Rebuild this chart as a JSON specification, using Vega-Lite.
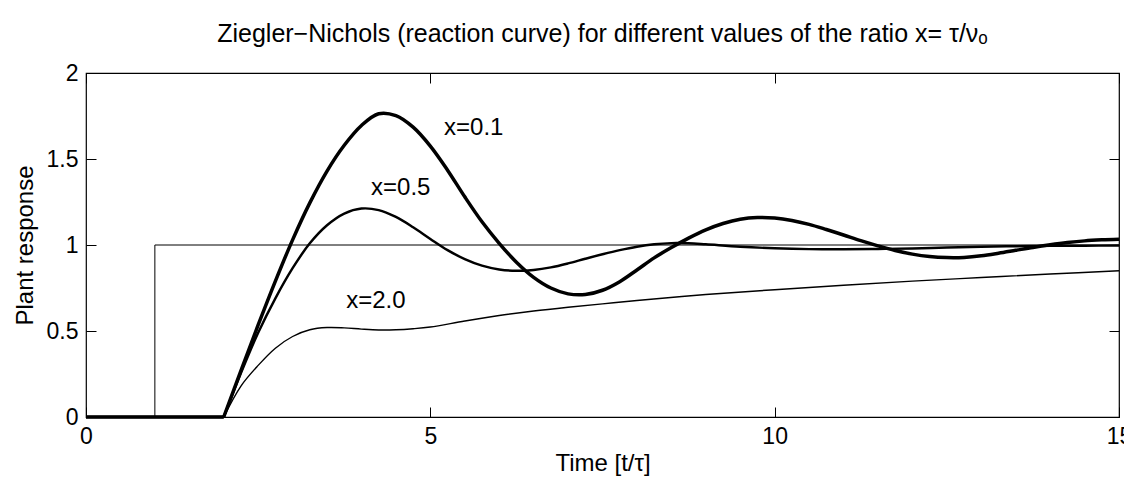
{
  "$schema": "https://vega.github.io/schema/vega-lite/v6.json",
  "width": 1033,
  "height": 344,
  "autosize": {"type": "none"},
  "padding": {"left": 86, "top": 73, "right": 5, "bottom": 62},
  "background": "#ffffff",
  "title": {
    "text": "Ziegler−Nichols (reaction curve) for different values of the ratio x= τ/νₒ",
    "font": "Liberation Sans",
    "fontSize": 25,
    "fontWeight": "normal",
    "color": "#000000",
    "baseline": "alphabetic",
    "offset": -5,
    "anchor": "middle"
  },
  "config": {
    "view": {"stroke": "#000000", "strokeWidth": 1.2},
    "font": "Liberation Sans",
    "axis": {
      "grid": false,
      "domain": false,
      "tickColor": "#000000",
      "tickSize": -10,
      "tickWidth": 1,
      "labelFlush": false,
      "format": "~g",
      "labelFont": "Liberation Sans",
      "labelFontSize": 23,
      "labelColor": "#000000",
      "titleFont": "Liberation Sans",
      "titleFontSize": 24,
      "titleFontWeight": "normal",
      "titleColor": "#000000"
    }
  },
  "datasets": {
    "curves": [
      {"t": 0, "y": 0, "s": "x=0.1", "part": "flat"}, {"t": 2, "y": 0, "s": "x=0.1", "part": "flat"},
      {"t": 2, "y": 0, "s": "x=0.1", "part": "rise"},
      {"t": 2.25, "y": 0.27, "s": "x=0.1", "part": "rise"}, {"t": 2.5, "y": 0.535, "s": "x=0.1", "part": "rise"},
      {"t": 2.75, "y": 0.79, "s": "x=0.1", "part": "rise"}, {"t": 3.0, "y": 1.03, "s": "x=0.1", "part": "rise"},
      {"t": 3.25, "y": 1.245, "s": "x=0.1", "part": "rise"}, {"t": 3.5, "y": 1.43, "s": "x=0.1", "part": "rise"},
      {"t": 3.75, "y": 1.58, "s": "x=0.1", "part": "rise"}, {"t": 4.0, "y": 1.695, "s": "x=0.1", "part": "rise"},
      {"t": 4.25, "y": 1.763, "s": "x=0.1", "part": "rise"}, {"t": 4.5, "y": 1.752, "s": "x=0.1", "part": "rise"},
      {"t": 4.75, "y": 1.685, "s": "x=0.1", "part": "rise"}, {"t": 5.0, "y": 1.575, "s": "x=0.1", "part": "rise"},
      {"t": 5.25, "y": 1.435, "s": "x=0.1", "part": "rise"}, {"t": 5.5, "y": 1.28, "s": "x=0.1", "part": "rise"},
      {"t": 5.75, "y": 1.135, "s": "x=0.1", "part": "rise"}, {"t": 6.0, "y": 1.01, "s": "x=0.1", "part": "rise"},
      {"t": 6.25, "y": 0.9, "s": "x=0.1", "part": "rise"}, {"t": 6.5, "y": 0.812, "s": "x=0.1", "part": "rise"},
      {"t": 6.75, "y": 0.75, "s": "x=0.1", "part": "rise"}, {"t": 7.0, "y": 0.716, "s": "x=0.1", "part": "rise"},
      {"t": 7.25, "y": 0.712, "s": "x=0.1", "part": "rise"}, {"t": 7.5, "y": 0.737, "s": "x=0.1", "part": "rise"},
      {"t": 7.75, "y": 0.787, "s": "x=0.1", "part": "rise"}, {"t": 8.0, "y": 0.855, "s": "x=0.1", "part": "rise"},
      {"t": 8.25, "y": 0.925, "s": "x=0.1", "part": "rise"}, {"t": 8.5, "y": 0.985, "s": "x=0.1", "part": "rise"},
      {"t": 8.75, "y": 1.04, "s": "x=0.1", "part": "rise"}, {"t": 9.0, "y": 1.088, "s": "x=0.1", "part": "rise"},
      {"t": 9.25, "y": 1.125, "s": "x=0.1", "part": "rise"}, {"t": 9.5, "y": 1.15, "s": "x=0.1", "part": "rise"},
      {"t": 9.75, "y": 1.16, "s": "x=0.1", "part": "rise"}, {"t": 10.0, "y": 1.157, "s": "x=0.1", "part": "rise"},
      {"t": 10.25, "y": 1.143, "s": "x=0.1", "part": "rise"}, {"t": 10.5, "y": 1.12, "s": "x=0.1", "part": "rise"},
      {"t": 10.75, "y": 1.09, "s": "x=0.1", "part": "rise"}, {"t": 11.0, "y": 1.058, "s": "x=0.1", "part": "rise"},
      {"t": 11.25, "y": 1.025, "s": "x=0.1", "part": "rise"}, {"t": 11.5, "y": 0.995, "s": "x=0.1", "part": "rise"},
      {"t": 11.75, "y": 0.968, "s": "x=0.1", "part": "rise"}, {"t": 12.0, "y": 0.947, "s": "x=0.1", "part": "rise"},
      {"t": 12.25, "y": 0.933, "s": "x=0.1", "part": "rise"}, {"t": 12.5, "y": 0.927, "s": "x=0.1", "part": "rise"},
      {"t": 12.75, "y": 0.928, "s": "x=0.1", "part": "rise"}, {"t": 13.0, "y": 0.937, "s": "x=0.1", "part": "rise"},
      {"t": 13.25, "y": 0.952, "s": "x=0.1", "part": "rise"}, {"t": 13.5, "y": 0.969, "s": "x=0.1", "part": "rise"},
      {"t": 13.75, "y": 0.986, "s": "x=0.1", "part": "rise"}, {"t": 14.0, "y": 1.001, "s": "x=0.1", "part": "rise"},
      {"t": 14.25, "y": 1.014, "s": "x=0.1", "part": "rise"}, {"t": 14.5, "y": 1.024, "s": "x=0.1", "part": "rise"},
      {"t": 14.75, "y": 1.03, "s": "x=0.1", "part": "rise"}, {"t": 15.0, "y": 1.034, "s": "x=0.1", "part": "rise"},

      {"t": 0, "y": 0, "s": "x=0.5", "part": "flat"}, {"t": 2, "y": 0, "s": "x=0.5", "part": "flat"},
      {"t": 2, "y": 0, "s": "x=0.5", "part": "rise"},
      {"t": 2.25, "y": 0.255, "s": "x=0.5", "part": "rise"}, {"t": 2.5, "y": 0.49, "s": "x=0.5", "part": "rise"},
      {"t": 2.75, "y": 0.69, "s": "x=0.5", "part": "rise"}, {"t": 3.0, "y": 0.865, "s": "x=0.5", "part": "rise"},
      {"t": 3.25, "y": 1.01, "s": "x=0.5", "part": "rise"}, {"t": 3.5, "y": 1.115, "s": "x=0.5", "part": "rise"},
      {"t": 3.75, "y": 1.183, "s": "x=0.5", "part": "rise"}, {"t": 4.0, "y": 1.212, "s": "x=0.5", "part": "rise"},
      {"t": 4.25, "y": 1.203, "s": "x=0.5", "part": "rise"}, {"t": 4.5, "y": 1.163, "s": "x=0.5", "part": "rise"},
      {"t": 4.75, "y": 1.103, "s": "x=0.5", "part": "rise"}, {"t": 5.0, "y": 1.035, "s": "x=0.5", "part": "rise"},
      {"t": 5.25, "y": 0.97, "s": "x=0.5", "part": "rise"}, {"t": 5.5, "y": 0.918, "s": "x=0.5", "part": "rise"},
      {"t": 5.75, "y": 0.88, "s": "x=0.5", "part": "rise"}, {"t": 6.0, "y": 0.858, "s": "x=0.5", "part": "rise"},
      {"t": 6.25, "y": 0.85, "s": "x=0.5", "part": "rise"}, {"t": 6.5, "y": 0.855, "s": "x=0.5", "part": "rise"},
      {"t": 6.75, "y": 0.87, "s": "x=0.5", "part": "rise"}, {"t": 7.0, "y": 0.893, "s": "x=0.5", "part": "rise"},
      {"t": 7.25, "y": 0.92, "s": "x=0.5", "part": "rise"}, {"t": 7.5, "y": 0.946, "s": "x=0.5", "part": "rise"},
      {"t": 7.75, "y": 0.97, "s": "x=0.5", "part": "rise"}, {"t": 8.0, "y": 0.99, "s": "x=0.5", "part": "rise"},
      {"t": 8.25, "y": 1.004, "s": "x=0.5", "part": "rise"}, {"t": 8.5, "y": 1.011, "s": "x=0.5", "part": "rise"},
      {"t": 8.75, "y": 1.01, "s": "x=0.5", "part": "rise"}, {"t": 9.0, "y": 1.004, "s": "x=0.5", "part": "rise"},
      {"t": 9.5, "y": 0.99, "s": "x=0.5", "part": "rise"}, {"t": 10.0, "y": 0.981, "s": "x=0.5", "part": "rise"},
      {"t": 10.5, "y": 0.976, "s": "x=0.5", "part": "rise"}, {"t": 11.0, "y": 0.975, "s": "x=0.5", "part": "rise"},
      {"t": 11.5, "y": 0.977, "s": "x=0.5", "part": "rise"}, {"t": 12.0, "y": 0.98, "s": "x=0.5", "part": "rise"},
      {"t": 12.5, "y": 0.985, "s": "x=0.5", "part": "rise"}, {"t": 13.0, "y": 0.99, "s": "x=0.5", "part": "rise"},
      {"t": 13.5, "y": 0.993, "s": "x=0.5", "part": "rise"}, {"t": 14.0, "y": 0.995, "s": "x=0.5", "part": "rise"},
      {"t": 14.5, "y": 0.996, "s": "x=0.5", "part": "rise"}, {"t": 15.0, "y": 0.997, "s": "x=0.5", "part": "rise"},

      {"t": 0, "y": 0, "s": "x=2.0", "part": "flat"}, {"t": 2, "y": 0, "s": "x=2.0", "part": "flat"},
      {"t": 2, "y": 0, "s": "x=2.0", "part": "rise"},
      {"t": 2.25, "y": 0.18, "s": "x=2.0", "part": "rise"}, {"t": 2.5, "y": 0.3, "s": "x=2.0", "part": "rise"},
      {"t": 2.75, "y": 0.4, "s": "x=2.0", "part": "rise"}, {"t": 3.0, "y": 0.468, "s": "x=2.0", "part": "rise"},
      {"t": 3.25, "y": 0.507, "s": "x=2.0", "part": "rise"}, {"t": 3.5, "y": 0.52, "s": "x=2.0", "part": "rise"},
      {"t": 3.75, "y": 0.518, "s": "x=2.0", "part": "rise"}, {"t": 4.0, "y": 0.511, "s": "x=2.0", "part": "rise"},
      {"t": 4.25, "y": 0.506, "s": "x=2.0", "part": "rise"}, {"t": 4.5, "y": 0.507, "s": "x=2.0", "part": "rise"},
      {"t": 4.75, "y": 0.513, "s": "x=2.0", "part": "rise"}, {"t": 5.0, "y": 0.523, "s": "x=2.0", "part": "rise"},
      {"t": 5.5, "y": 0.558, "s": "x=2.0", "part": "rise"}, {"t": 6.0, "y": 0.59, "s": "x=2.0", "part": "rise"},
      {"t": 6.5, "y": 0.616, "s": "x=2.0", "part": "rise"}, {"t": 7.0, "y": 0.638, "s": "x=2.0", "part": "rise"},
      {"t": 7.5, "y": 0.658, "s": "x=2.0", "part": "rise"}, {"t": 8.0, "y": 0.677, "s": "x=2.0", "part": "rise"},
      {"t": 9.0, "y": 0.712, "s": "x=2.0", "part": "rise"}, {"t": 10.0, "y": 0.74, "s": "x=2.0", "part": "rise"},
      {"t": 11.0, "y": 0.766, "s": "x=2.0", "part": "rise"}, {"t": 12.0, "y": 0.79, "s": "x=2.0", "part": "rise"},
      {"t": 13.0, "y": 0.811, "s": "x=2.0", "part": "rise"}, {"t": 14.0, "y": 0.831, "s": "x=2.0", "part": "rise"},
      {"t": 15.0, "y": 0.85, "s": "x=2.0", "part": "rise"}
    ],
    "step": [
      {"t": 0, "y": 0, "i": 0}, {"t": 1, "y": 0, "i": 1},
      {"t": 1, "y": 1, "i": 2}, {"t": 15, "y": 1, "i": 3}
    ],
    "labels": [
      {"t": 5.63, "y": 1.68, "text": "x=0.1"},
      {"t": 4.57, "y": 1.33, "text": "x=0.5"},
      {"t": 4.21, "y": 0.674, "text": "x=2.0"}
    ]
  },
  "layer": [
    {
      "data": {"name": "step"},
      "mark": {"type": "line", "color": "#000000", "strokeWidth": 1, "interpolate": "linear"},
      "encoding": {
        "x": {"field": "t", "type": "quantitative", "scale": {"domain": [0, 15], "nice": false},
              "axis": {"orient": "top", "values": [0, 5, 10, 15], "labels": false, "title": null}},
        "y": {"field": "y", "type": "quantitative", "scale": {"domain": [0, 2], "nice": false},
              "axis": {"orient": "right", "values": [0, 0.5, 1, 1.5, 2], "labels": false, "title": null}},
        "order": {"field": "i", "type": "quantitative"}
      }
    },
    {
      "data": {"name": "curves"},
      "mark": {"type": "line", "color": "#000000", "interpolate": "catmull-rom"},
      "encoding": {
        "x": {"field": "t", "type": "quantitative",
              "axis": {"orient": "bottom", "values": [0, 5, 10, 15], "title": "Time [t/τ]", "labelPadding": 18, "titlePadding": 3}},
        "y": {"field": "y", "type": "quantitative",
              "axis": {"orient": "left", "values": [0, 0.5, 1, 1.5, 2], "title": "Plant response", "labelPadding": 18, "titlePadding": 9}},
        "detail": {"field": "part", "type": "nominal"},
        "strokeWidth": {"field": "s", "type": "nominal",
                        "scale": {"domain": ["x=0.1", "x=0.5", "x=2.0"], "range": [3.5, 1.4, 1]},
                        "legend": null}
      }
    },
    {
      "data": {"name": "labels"},
      "mark": {"type": "text", "font": "Liberation Sans", "fontSize": 24, "color": "#000000", "align": "center", "baseline": "middle"},
      "encoding": {
        "x": {"field": "t", "type": "quantitative", "axis": null},
        "y": {"field": "y", "type": "quantitative", "axis": null},
        "text": {"field": "text", "type": "nominal"}
      }
    }
  ],
  "resolve": {"axis": {"x": "independent", "y": "independent"}}
}
